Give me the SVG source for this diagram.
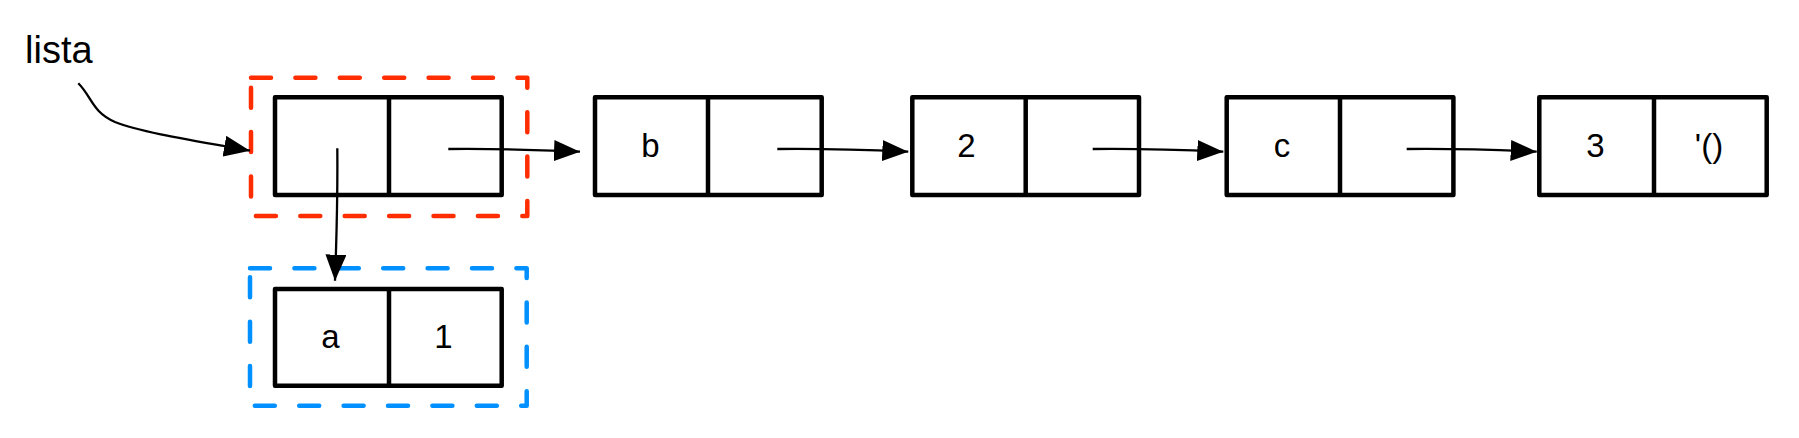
<svg xmlns="http://www.w3.org/2000/svg" width="1799" height="438" viewBox="0 0 1799 438">
<style>
.cell{fill:#ffffff;stroke:#000000;stroke-width:4.5;stroke-linejoin:round}
.div{stroke:#000000;stroke-width:4.5}
.lbl{font-family:"Liberation Sans",Arial,Helvetica,sans-serif;font-size:33px;fill:#000000;text-anchor:middle}
.conn{fill:none;stroke:#000000;stroke-width:2.3}
.grp{fill:none;stroke-width:4.5;stroke-dasharray:20 24.4;stroke-linecap:round;stroke-linejoin:round}
</style>
<defs>
<marker id="ah" viewBox="0 0 26 21" refX="26" refY="10.5" markerWidth="26" markerHeight="21" markerUnits="userSpaceOnUse" orient="auto">
<path d="M0,0 L26,10.5 L0,21 Z" fill="#000000"/>
</marker>
</defs>
<rect width="1799" height="438" fill="#ffffff"/>
<g id="group-red">
<rect class="grp" x="251" y="77.7" width="276.3" height="138.3" stroke="#ff2d00"/>
</g>
<g id="group-blue">
<rect class="grp" x="250" y="268.3" width="276.7" height="137.4" stroke="#0090ff"/>
</g>
<g id="label-lista">
<text x="25" y="63.3" style="font-family:'Liberation Sans',Arial,sans-serif;font-size:38px;fill:#000">lista</text>
</g>
<g id="node-1">
<rect class="cell" x="275" y="97.3" width="226.7" height="97.7"/>
<line class="div" x1="389" y1="97.3" x2="389" y2="195"/>
</g>
<g id="node-a">
<rect class="cell" x="275" y="289" width="226.7" height="96.7"/>
<line class="div" x1="389" y1="289" x2="389" y2="385.7"/>
<text class="lbl" x="330.5" y="347.7">a</text>
<text class="lbl" x="443.5" y="347.7">1</text>
</g>
<g id="node-b">
<rect class="cell" x="595" y="97.3" width="226.7" height="97.7"/>
<line class="div" x1="708" y1="97.3" x2="708" y2="195"/>
<text class="lbl" x="650.5" y="157">b</text>
</g>
<g id="node-2">
<rect class="cell" x="912.3" y="97.3" width="226.7" height="97.7"/>
<line class="div" x1="1025.7" y1="97.3" x2="1025.7" y2="195"/>
<text class="lbl" x="966.5" y="157">2</text>
</g>
<g id="node-c">
<rect class="cell" x="1226.7" y="97.3" width="226.7" height="97.7"/>
<line class="div" x1="1340" y1="97.3" x2="1340" y2="195"/>
<text class="lbl" x="1282" y="157">c</text>
</g>
<g id="node-3">
<rect class="cell" x="1539.3" y="97.3" width="227.4" height="97.7"/>
<line class="div" x1="1654" y1="97.3" x2="1654" y2="195"/>
<text class="lbl" x="1595.5" y="157">3</text>
<text class="lbl" x="1709" y="157">'()</text>
</g>
<g id="connectors">
<path class="conn" marker-end="url(#ah)" d="M78.3,83.3 C92,97 92,112 115,122 C140,132 190,140 250,150.7"/>
<path class="conn" marker-end="url(#ah)" d="M448.3,149 C490,148.5 530,149.5 580,151.7"/>
<path class="conn" marker-end="url(#ah)" d="M337.3,148.3 C337.8,200 336.5,240 335,280.7"/>
<path class="conn" marker-end="url(#ah)" d="M777.3,149 C820,148.5 860,149.5 908.3,151.7"/>
<path class="conn" marker-end="url(#ah)" d="M1092.7,149 C1135,148.5 1175,149.5 1223.3,151.7"/>
<path class="conn" marker-end="url(#ah)" d="M1406.7,149 C1450,148.5 1490,149.5 1536.7,151.7"/>
</g>
</svg>
